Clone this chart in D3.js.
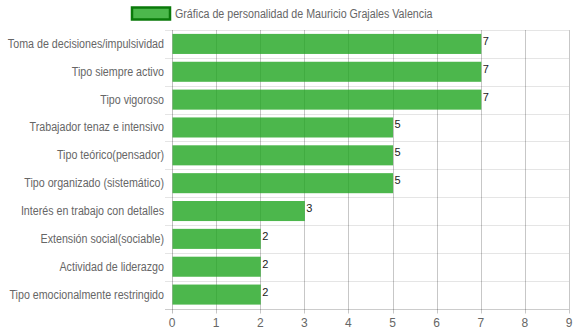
<!DOCTYPE html>
<html><head><meta charset="utf-8">
<script src="https://cdn.jsdelivr.net/npm/d3@7"></script>
<style>body{margin:0;background:#fff}svg{display:block}</style>
</head><body><svg id="c" width="575" height="334"></svg>
<script>
const categories = ["Toma de decisiones/impulsividad","Tipo siempre activo","Tipo vigoroso","Trabajador tenaz e intensivo","Tipo teórico(pensador)","Tipo organizado (sistemático)","Interés en trabajo con detalles","Extensión social(sociable)","Actividad de liderazgo","Tipo emocionalmente restringido"];
const values = [7,7,7,5,5,5,3,2,2,2];
const xTicks = [0,1,2,3,4,5,6,7,8,9];
const seriesName = "Gráfica de personalidad de Mauricio Grajales Valencia";

const svg = d3.select("#c");
const font = "'Liberation Sans', Arial, Helvetica, sans-serif";
const squeeze = 0.89;
function condense(sel){
  sel.each(function(){
    const w = this.getComputedTextLength();
    d3.select(this).attr("textLength", w*squeeze).attr("lengthAdjust","spacingAndGlyphs");
  });
}
const L = 172, R = 569, T = 30, B = 308.5;
const x = d3.scaleLinear().domain([0,9]).range([L,R]);
const y = d3.scaleBand().domain(categories).range([T,B]);

// horizontal gridlines (category boundaries)
const hg = svg.append("g");
categories.forEach((c,i)=>{
  hg.append("line").attr("x1",L-7).attr("x2",R).attr("y1",Math.round(y(c))+0.5).attr("y2",Math.round(y(c))+0.5)
    .attr("stroke","rgba(0,0,0,0.1)");
});
// vertical gridlines
const vg = svg.append("g");
xTicks.forEach(t=>{
  vg.append("line").attr("x1",Math.round(x(t))+0.5).attr("x2",Math.round(x(t))+0.5).attr("y1",T).attr("y2",B+5)
    .attr("stroke", t===0 ? "rgba(0,0,0,0.25)" : "rgba(0,0,0,0.22)");
});
// bottom axis line
svg.append("line").attr("x1",L-7).attr("x2",R).attr("y1",Math.round(B)+0.5).attr("y2",Math.round(B)+0.5).attr("stroke","rgba(0,0,0,0.2)");

// bars
const bh = y.bandwidth()*0.72;
svg.append("g").selectAll("rect").data(values).join("rect")
  .attr("x", x(0)+0.5)
  .attr("y",(d,i)=> y(categories[i]) + (y.bandwidth()-bh)/2)
  .attr("width", d=> x(d)-x(0))
  .attr("height", bh)
  .attr("fill","rgba(31,165,31,0.8)");

// value labels
svg.append("g").selectAll("text").data(values).join("text")
  .attr("x", d=> x(d)+2)
  .attr("y",(d,i)=> y(categories[i]) + y.bandwidth()/2 + 1)
  .attr("font-family",font).attr("font-size",11).attr("fill","#222")
  .text(d=>d);

// y labels
svg.append("g").selectAll("text").data(categories).join("text")
  .attr("x",164).attr("y",c=> y(c)+y.bandwidth()/2+4)
  .attr("text-anchor","end").attr("font-family",font).attr("font-size",12).attr("fill","#666")
  .text(c=>c).call(condense);

// x tick labels
svg.append("g").selectAll("text").data(xTicks).join("text")
  .attr("x",t=>x(t)).attr("y",327)
  .attr("text-anchor","middle").attr("font-family",font).attr("font-size",12).attr("fill","#666")
  .text(t=>t);

// legend
svg.append("rect").attr("x",132).attr("y",7.5).attr("width",38).attr("height",12)
  .attr("fill","rgba(76,184,76,1)").attr("stroke","#0a7a0a").attr("stroke-width",2.5);
svg.append("text").attr("x",175).attr("y",18).attr("font-family",font).attr("font-size",12).attr("fill","#666")
  .text(seriesName).call(condense);
</script></body></html>
